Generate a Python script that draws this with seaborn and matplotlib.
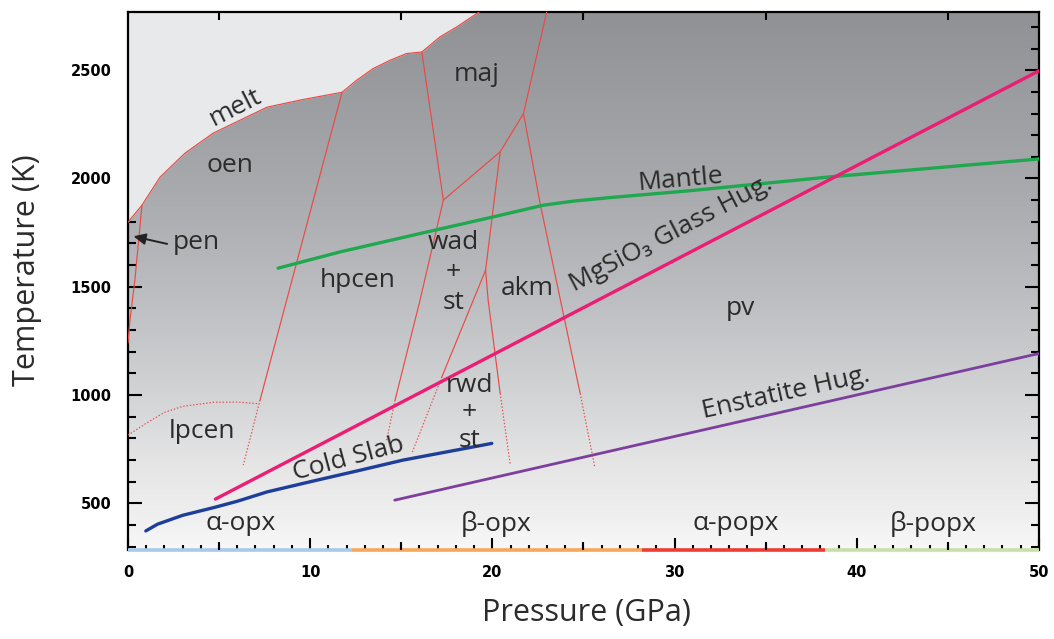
import numpy as np
import pandas as pd
import matplotlib
matplotlib.use("Agg")
import matplotlib.pyplot as plt
import seaborn as sns
from matplotlib.colors import LinearSegmentedColormap
from matplotlib.ticker import MultipleLocator, FixedLocator

# ---------------- data ----------------
melt_P = [0.0, 0.77, 1.76, 3.13, 4.67, 7.63, 9.45, 11.75, 12.56, 13.47, 14.39, 15.3, 16.13, 17.13, 18.05, 19.15, 19.4]
melt_T = [1798, 1877, 2006, 2117, 2209, 2329, 2362, 2398, 2454, 2508, 2546, 2577, 2584, 2654, 2700, 2762, 2775]

# solid phase boundaries
pen_oen_P = [0.77, 0.38, 0.11, 0.0]
pen_oen_T = [1877, 1531, 1346, 1240]
oen_hpcen_P = [11.75, 8.71, 7.25]
oen_hpcen_T = [2398, 1438, 977]
maj_hpcen_P = [16.13, 17.31]
maj_hpcen_T = [2584, 1900]
hpcen_wad_P = [17.31, 16.03, 14.66]
hpcen_wad_T = [1900, 1438, 977]
maj_wad_P = [17.31, 20.43, 21.71]
maj_wad_T = [1900, 2123, 2300]
maj_pv_P = [21.71, 23.0]
maj_pv_T = [2300, 2775]
wad_akm_P = [20.43, 19.63]
wad_akm_T = [2123, 1577]
wad_rwd_P = [19.63, 17.23]
wad_rwd_T = [1577, 1084]
rwd_akm_P = [19.63, 19.77, 20.43]
rwd_akm_T = [1577, 1438, 1008]
akm_pv_P = [21.71, 22.62, 23.89, 24.82]
akm_pv_T = [2300, 1886, 1378, 1008]

# dotted (metastable) boundaries
lpcen_P = [0.0, 1.0, 2.0, 3.0, 4.7, 6.0, 7.2]
lpcen_T = [815, 870, 920, 948, 967, 968, 960]
oen_hpcen_dot_P = [7.25, 6.33]
oen_hpcen_dot_T = [977, 677]
hpcen_wad_dot_P = [14.66, 14.2]
hpcen_wad_dot_T = [977, 792]
wad_rwd_dot_P = [17.23, 15.58]
wad_rwd_dot_T = [1084, 731]
rwd_akm_dot_P = [20.43, 20.98]
rwd_akm_dot_T = [1008, 680]
akm_pv_dot_P = [24.82, 25.62]
akm_pv_dot_T = [1008, 668]

# paths
mantle_P = [8.24, 11.64, 16.04, 20.06, 22.81, 24.5, 26.47, 30.77, 38.6, 50.0]
mantle_T = [1586, 1661, 1746, 1823, 1877, 1896, 1912, 1943, 2008, 2090]
glass_P = [4.8, 50.0]
glass_T = [520, 2497]
enst_P = [14.64, 50.0]
enst_T = [515, 1192]
slab_P = [0.98, 1.62, 3.0, 4.72, 6.0, 7.63, 10.0, 12.73, 15.1, 17.0, 19.97]
slab_T = [373, 404, 445, 481, 510, 553, 600, 653, 700, 730, 777]

# pyroxene polymorph bar along the pressure axis
bar_edges = [0.0, 12.28, 28.2, 38.27, 50.0]
bar_colors = ["#a9c9ea", "#f7a65a", "#ee3b34", "#c8e0a8"]

# labels: text, P, T, rotation, linespacing
labels = [
    ("melt", 5.88, 2325, 27, 1.2),
    ("oen", 5.6, 2061, 0, 1.2),
    ("maj", 19.15, 2482, 0, 1.2),
    ("hpcen", 12.6, 1531, 0, 1.2),
    ("wad\n+\nst", 17.85, 1565, 0, 1.25),
    ("akm", 21.9, 1492, 0, 1.2),
    ("pv", 33.6, 1402, 0, 1.2),
    ("lpcen", 4.04, 834, 0, 1.2),
    ("rwd\n+\nst", 18.75, 918, 0, 1.12),
    ("Mantle", 30.31, 1992, 5, 1.2),
    ("MgSiO\u2083 Glass Hug.", 29.82, 1743, 27.5, 1.2),
    ("Cold Slab", 12.08, 705, 15, 1.2),
    ("Enstatite Hug.", 36.13, 1010, 12.5, 1.2),
    ("\u03b1-opx", 6.18, 407, 0, 1.2),
    ("\u03b2-opx", 20.2, 407, 0, 1.2),
    ("\u03b1-popx", 33.36, 407, 0, 1.2),
    ("\u03b2-popx", 44.18, 407, 0, 1.2),
]
pen_text = ("pen", 3.73, 1706)
pen_arrow_tip = (0.3, 1733)
pen_arrow_tail = (2.15, 1698)

xlim = (0, 50)
ylim = (285, 2770)

# ---------------- style ----------------
sns.set_theme(style="white")
plt.rcParams["font.family"] = ["Open Sans", "DejaVu Sans"]
TXT = "#2b2b2b"
RED = "#ea4a44"
LBL = 19

fig = plt.figure(figsize=(10.54, 6.39), dpi=100)
ax = fig.add_axes([0.1214, 0.1393, 0.8643, 0.8424])

# background gradient
stops_T = [285, 420, 700, 975, 1440, 1940, 2770]
stops_c = ["#f8f8f8", "#f0f0f0", "#e4e4e5", "#d4d5d7", "#bdbec1", "#a9aaad", "#909195"]
pos = [(t - ylim[0]) / (ylim[1] - ylim[0]) for t in stops_T]
cmap = LinearSegmentedColormap.from_list("bg", list(zip(pos, stops_c)))
grad = np.linspace(0, 1, 512).reshape(-1, 1)
ax.imshow(grad, extent=[xlim[0], xlim[1], ylim[0], ylim[1]], origin="lower",
          aspect="auto", cmap=cmap, zorder=0, interpolation="bicubic")

# melt region
ax.fill_between(melt_P, melt_T, ylim[1] + 50, color="#e8e9eb", zorder=1, lw=0)


def draw(P, T, color, lw, ls="-", z=3):
    df = pd.DataFrame({"P": P, "T": T})
    sns.lineplot(data=df, x="P", y="T", sort=False, estimator=None, ax=ax,
                 color=color, lw=lw, linestyle=ls, zorder=z)


solid = [(melt_P, melt_T), (pen_oen_P, pen_oen_T), (oen_hpcen_P, oen_hpcen_T),
         (maj_hpcen_P, maj_hpcen_T), (hpcen_wad_P, hpcen_wad_T), (maj_wad_P, maj_wad_T),
         (maj_pv_P, maj_pv_T), (wad_akm_P, wad_akm_T), (wad_rwd_P, wad_rwd_T),
         (rwd_akm_P, rwd_akm_T), (akm_pv_P, akm_pv_T)]
for P, T in solid:
    draw(P, T, RED, 0.85)

dotted = [(lpcen_P, lpcen_T), (oen_hpcen_dot_P, oen_hpcen_dot_T),
          (hpcen_wad_dot_P, hpcen_wad_dot_T), (wad_rwd_dot_P, wad_rwd_dot_T),
          (rwd_akm_dot_P, rwd_akm_dot_T), (akm_pv_dot_P, akm_pv_dot_T)]
for P, T in dotted:
    draw(P, T, RED, 0.85, ls=(0, (1.2, 1.6)))

draw(mantle_P, mantle_T, "#1fa84f", 2.4, z=4)
draw(glass_P, glass_T, "#ec1d74", 2.4, z=4)
draw(enst_P, enst_T, "#7d3f9d", 2.0, z=4)
draw(slab_P, slab_T, "#1d3e99", 2.4, z=4)

for txt, P, T, rot, lsp in labels:
    ax.text(P, T, txt, fontsize=LBL, color=TXT, ha="center", va="center",
            multialignment="center", linespacing=lsp,
            rotation=rot, rotation_mode="anchor", zorder=6)
ax.text(pen_text[1], pen_text[2], pen_text[0], fontsize=LBL, color=TXT,
        ha="center", va="center", zorder=6)
ax.annotate("", xy=pen_arrow_tip, xytext=pen_arrow_tail,
            arrowprops=dict(arrowstyle="-|>,head_length=0.6,head_width=0.28",
                            color="#222222", lw=1.4, shrinkA=0, shrinkB=0),
            zorder=6)

# polymorph bar
for i in range(len(bar_colors)):
    ax.hlines(ylim[0], bar_edges[i], bar_edges[i + 1], colors=bar_colors[i],
              lw=2.6, clip_on=False, zorder=7)

ax.set_xlim(*xlim)
ax.set_ylim(*ylim)
ax.grid(False)

for s in ["left", "right", "top"]:
    ax.spines[s].set_visible(True)
    ax.spines[s].set_color("black")
    ax.spines[s].set_linewidth(1.6)
ax.spines["bottom"].set_visible(False)

ax.xaxis.set_major_locator(FixedLocator([0, 10, 20, 30, 40, 50]))
ax.xaxis.set_minor_locator(MultipleLocator(1))
ax.yaxis.set_major_locator(FixedLocator([500, 1000, 1500, 2000, 2500]))
ax.yaxis.set_minor_locator(MultipleLocator(100))
ax.tick_params(which="both", direction="in", top=True, right=True, bottom=True,
               left=True, color="black", width=1.5)
ax.tick_params(axis="x", which="major", length=8.4, pad=11)
ax.tick_params(axis="x", which="minor", length=3.6)
ax.tick_params(axis="y", which="major", length=10, pad=12)
ax.tick_params(axis="y", which="minor", length=5.5)
for lbl in ax.get_xticklabels() + ax.get_yticklabels():
    lbl.set_fontfamily("DejaVu Sans")
    lbl.set_fontweight("bold")
    lbl.set_fontsize(10.5)
    lbl.set_color("black")

# medium ticks every 5 GPa
ax2 = ax.twiny()
ax2.set_xlim(*xlim)
ax2.set_xticks([5, 15, 25, 35, 45])
ax2.tick_params(axis="x", which="major", direction="in", length=6, width=1.5,
                top=True, bottom=True, labeltop=False, labelbottom=False, color="black")
for s in ax2.spines.values():
    s.set_visible(False)
ax2.grid(False)

ax.set_xlabel("Pressure (GPa)", fontsize=22, color="#2b2b2b")
ax.set_ylabel("Temperature (K)", fontsize=22, color="#2b2b2b")
ax.xaxis.set_label_coords(0.503, -0.089)
ax.yaxis.set_label_coords(-0.094, 0.52)

fig.savefig("out.png", dpi=100)
